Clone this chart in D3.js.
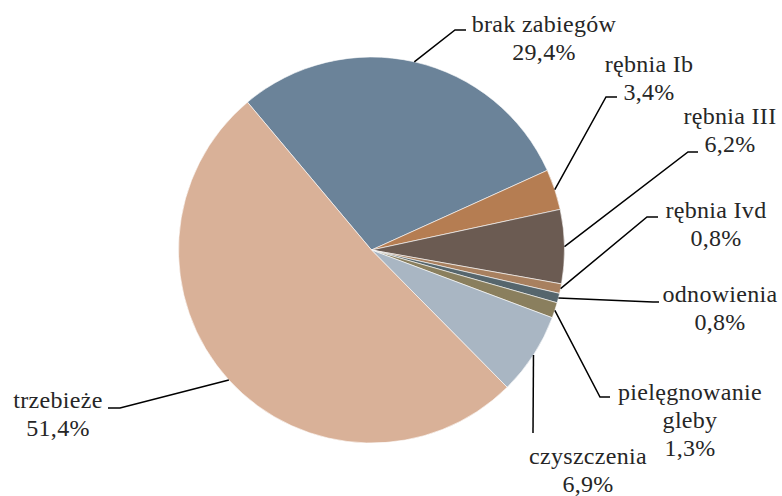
<!DOCTYPE html>
<html>
<head>
<meta charset="utf-8">
<script src="https://cdn.jsdelivr.net/npm/d3@7"></script>
<style>
  body { margin: 0; background: #fff; }
</style>
</head>
<body>
<svg id="chart"></svg>
<script>
// udział zabiegów (%)
var categories = ["brak zabiegów", "rębnia Ib", "rębnia III", "rębnia Ivd", "odnowienia", "pielęgnowanie gleby", "czyszczenia", "trzebieże"]
var values = [29.4, 3.4, 6.2, 0.8, 0.8, 1.3, 6.9, 51.4]
var colors = ["#6b8399", "#b57d52", "#6b5b52", "#a8805f", "#56666d", "#8a7f5e", "#a9b6c3", "#d9b198"]

var screen = {width: 782, height: 496}
var center = {x: 371.5, y: 250}
var radius = 193

// label layout: elbow of leader, horizontal tick, text centre and first baseline
var labelPos = {
  "brak zabiegów":       {ex: 455, ey: 30,  tick: 11,  tx: 544, ty: 32,  wrap: false},
  "rębnia Ib":           {ex: 606, ey: 97,  tick: 11,  tx: 649, ty: 72,  wrap: false},
  "rębnia III":          {ex: 688, ey: 152, tick: 10,  tx: 730, ty: 124, wrap: false},
  "rębnia Ivd":          {ex: 647, ey: 217, tick: 11,  tx: 716, ty: 218, wrap: false},
  "odnowienia":          {ex: 653, ey: 302, tick: 6,   tx: 720, ty: 302, wrap: false},
  "pielęgnowanie gleby": {ex: 600, ey: 397, tick: 10,  tx: 690, ty: 400, wrap: true},
  "czyszczenia":         {ex: 533, ey: 433, tick: 0,   tx: 588, ty: 464, wrap: false},
  "trzebieże":           {ex: 120, ey: 408, tick: -12, tx: 58,  ty: 408, wrap: false}
}

var data = categories.map(function(c, i){ return {name: c, value: values[i], color: colors[i]} })

var svg = d3.select("#chart")
  .attr("width", screen.width)
  .attr("height", screen.height)

var pie = d3.pie()
  .sort(null)
  .value(function(d){ return d.value })
  .startAngle(-40 * Math.PI / 180)
  .endAngle(320 * Math.PI / 180)

var arc = d3.arc().innerRadius(0).outerRadius(radius)
var edge = d3.arc().innerRadius(radius).outerRadius(radius)

var g = svg.append("g")
  .attr("transform", "translate(" + center.x + "," + center.y + ")")

var slices = pie(data)

g.selectAll("path.slice")
  .data(slices)
  .enter()
  .append("path")
  .attr("class", "slice")
  .attr("d", arc)
  .attr("fill", function(d){ return d.data.color })
  .attr("stroke", "#ffffff")
  .attr("stroke-width", 0.6)

// leader lines
var line = d3.line()
svg.selectAll("path.leader")
  .data(slices)
  .enter()
  .append("path")
  .attr("class", "leader")
  .attr("fill", "none")
  .attr("stroke", "#000")
  .attr("stroke-width", 1.5)
  .attr("d", function(d){
    var p = edge.centroid(d)
    var L = labelPos[d.data.name]
    return line([[center.x + p[0], center.y + p[1]], [L.ex, L.ey], [L.ex + L.tick, L.ey]])
  })

var fmt = function(v){ return d3.format(".1f")(v).replace(".", ",") + "%" }

// one text element per label line
var labelLines = []
slices.forEach(function(d){
  var L = labelPos[d.data.name]
  var lines = L.wrap ? d.data.name.split(" ") : [d.data.name]
  lines.push(fmt(d.data.value))
  lines.forEach(function(t, i){
    labelLines.push({text: t, x: L.tx, y: L.ty + i * 28})
  })
})

svg.selectAll("text.lbl")
  .data(labelLines)
  .enter()
  .append("text")
  .attr("class", "lbl")
  .attr("x", function(d){ return d.x })
  .attr("y", function(d){ return d.y })
  .attr("text-anchor", "middle")
  .style("font-family", "'Liberation Serif'")
  .style("font-size", "24px")
  .style("letter-spacing", "0.3px")
  .style("fill", "#262626")
  .text(function(d){ return d.text })
</script>
</body>
</html>
